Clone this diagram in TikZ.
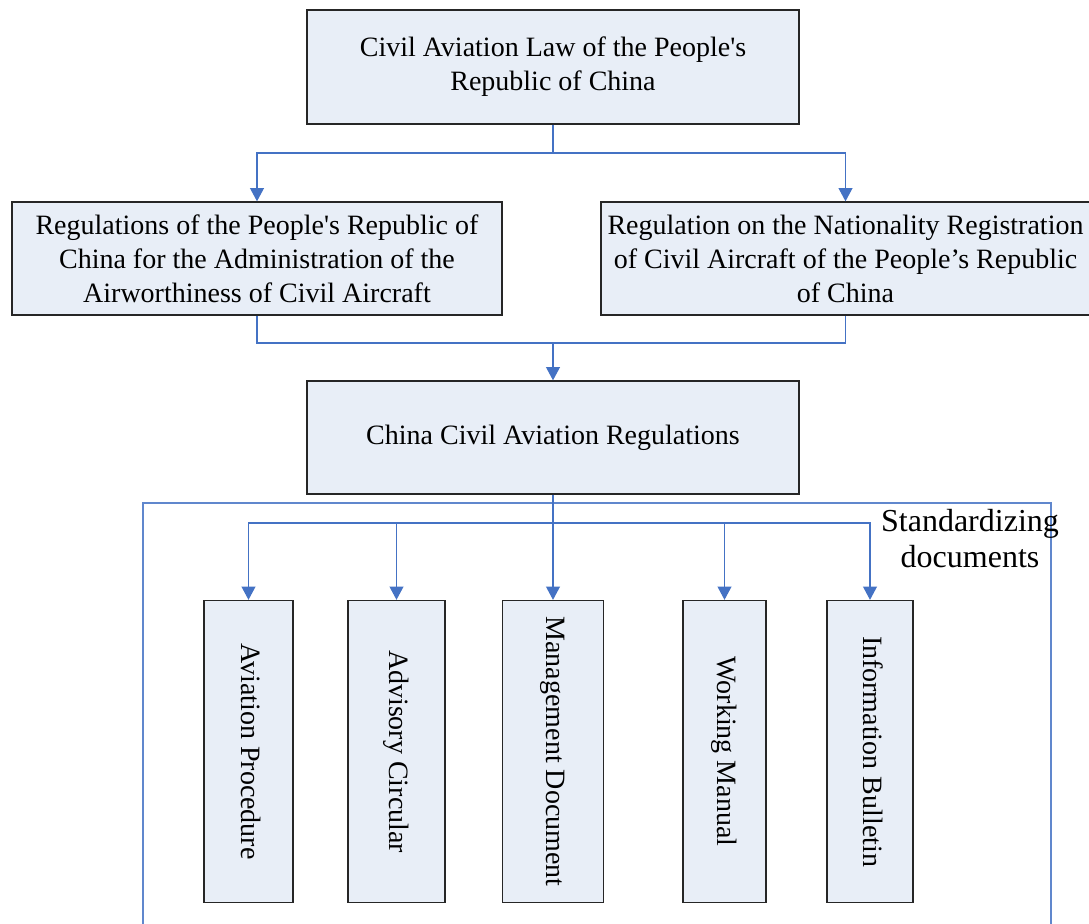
\documentclass[tikz,border=0pt]{standalone}
\usepackage{fontspec}
\setmainfont{Liberation Serif}
\usetikzlibrary{arrows.meta}
\definecolor{boxfill}{RGB}{232,238,247}
\definecolor{linkblue}{RGB}{68,114,196}

\begin{document}
\begin{tikzpicture}[x=0.75pt,y=-0.75pt,
		box/.style={draw=black!85,line width=1pt,fill=boxfill,inner sep=0pt,align=center,
			font=\fontsize{21}{25.5}\selectfont},
		link/.style={draw=linkblue,line width=0.9pt},
		tip/.style={link,-{Triangle[length=10pt,width=10.5pt]}}]
			\useasboundingbox (0,0) rectangle (1089,924);
			% frame of the standardizing documents
			\draw[link,draw=linkblue!85,line width=0.8pt] (143,940) |- (1051,503) -- (1051,940);
			\node[inner sep=0pt,align=center,font=\fontsize{24}{27}\selectfont] (sd) at (970,539) {Standardizing\\documents};
			
			\node[box,minimum width=369pt,minimum height=85.5pt] (v0) at (553,67)	{Civil Aviation Law of the People\textquotesingle s\\Republic of China};
			\node[box,minimum width=367.5pt,minimum height=84.75pt] (v1) at (257,258.5)	{Regulations of the People\textquotesingle s Republic of\\China for the Administration of the\\Airworthiness of Civil Aircraft};
			\node[box,minimum width=366.75pt,minimum height=84.75pt] (v2) at (845.5,258.5)	{Regulation on the Nationality Registration\\of Civil Aircraft of the People’s Republic\\of China};
			\node[box,minimum width=369pt,minimum height=84.75pt] (v3) at (553,437.5)	{China Civil Aviation Regulations};
			
			\def\docs {v4/248.5/66.75/Aviation Procedure, v5/396.5/72.75/Advisory Circular,
			v6/553/75.75/Management Document, v7/724.5/62.25/Working Manual,
			v8/870/64.5/Information Bulletin}  % name/x/width/text
			\foreach \n/\x/\w/\t in \docs
			{	\node[box,minimum width=\w pt,minimum height=226.5pt] (\n) at (\x,751.5) {\rotatebox{-90}{\t\strut}};
			}
			
			\coordinate (j0) at (553,153);
			\coordinate (j1) at (553,343);
			\coordinate (j2) at (553,523);
			\draw[link] (v0.south) -- (j0);
			\draw[tip] (j0) -| (v1.north);
			\draw[tip] (j0) -| (v2.north);
			\draw[link] (v1.south) |- (j1) -| (v2.south);
			\draw[tip] (j1) -- (v3.north);
			\draw[link] (v3.south) -- (j2);
			\foreach \n in {v4,v5,v6,v7,v8}
			{	\draw[tip] (j2) -| (\n.north);
			}
		\end{tikzpicture}
\end{document}
